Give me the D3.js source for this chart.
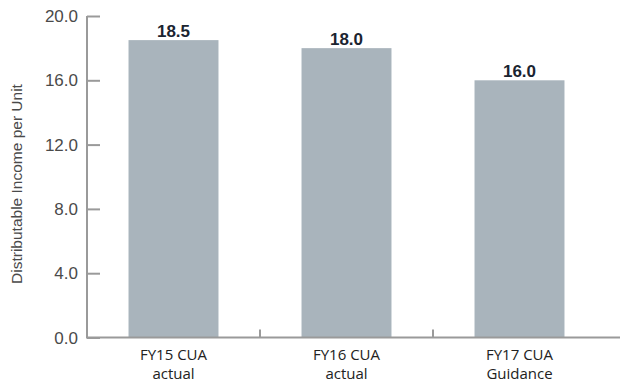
<!DOCTYPE html>
<html>
<head>
<meta charset="utf-8">
<script src="https://cdn.jsdelivr.net/npm/d3@7"></script>
<style>
  html, body { margin: 0; padding: 0; background: #fff; }
  svg { display: block; }
</style>
</head>
<body>
<svg id="chart" width="620" height="383"></svg>
<script>
// Distributable income per unit by year
const categories = ["FY15 CUA|actual", "FY16 CUA|actual", "FY17 CUA|Guidance"];
const values = [18.5, 18.0, 16.0];
const yTicks = [0, 4, 8, 12, 16, 20];
const yTitle = "Distributable Income per Unit";

const svg = d3.select("#chart");
const plotLeft = 87, plotRight = 606, plotTop = 16, plotBottom = 337.5;

const x = d3.scaleBand().domain(categories).range([plotLeft, plotRight]).paddingInner(0.48).paddingOuter(0.24);
const xb = d3.scaleBand().domain(categories).range([plotLeft, plotRight]);
const y = d3.scaleLinear().domain([0, 20]).range([plotBottom, plotTop]);

const axisColor = "#9a9a9a";

// Bars
svg.append("g").selectAll("rect").data(values).join("rect")
  .attr("x", (d, i) => x(categories[i]))
  .attr("width", x.bandwidth())
  .attr("y", d => y(d))
  .attr("height", d => y(0) - y(d))
  .attr("fill", "#a9b4bc");

// Value labels
svg.append("g").selectAll("text").data(values).join("text")
  .attr("x", (d, i) => x(categories[i]) + x.bandwidth() / 2)
  .attr("y", d => y(d) - 3)
  .attr("text-anchor", "middle")
  .attr("font-family", "Liberation Sans, Arial, sans-serif")
  .attr("font-weight", "bold")
  .attr("font-size", 17)
  .attr("fill", "#1b2430")
  .text(d => d.toFixed(1));

// Y axis
const yAxis = svg.append("g").attr("transform", `translate(${plotLeft},0)`)
  .call(d3.axisRight(y).tickValues(yTicks).tickSize(13).tickFormat(""));
yAxis.select(".domain").attr("stroke", axisColor).attr("stroke-width", 2)
  .attr("d", `M0,${plotTop}V${plotBottom + 1}`);
yAxis.selectAll(".tick line").attr("stroke", axisColor).attr("stroke-width", 2);

svg.append("g").selectAll("text").data(yTicks).join("text")
  .attr("x", 78)
  .attr("y", d => y(d))
  .attr("dy", "0.36em")
  .attr("text-anchor", "end")
  .attr("font-family", "Liberation Sans, Arial, sans-serif")
  .attr("font-size", 17)
  .attr("fill", "#4a4a4a")
  .text(d => d.toFixed(1));

// X axis baseline and category separators
const xAxis = svg.append("g").attr("transform", `translate(0,${plotBottom})`)
  .call(d3.axisTop(xb).tickSize(0).tickFormat(""));
xAxis.select(".domain").attr("stroke", axisColor).attr("stroke-width", 2)
  .attr("d", `M${plotLeft},0H620`);
svg.append("g").selectAll("line").data(categories.slice(1)).join("line")
  .attr("x1", d => xb(d)).attr("x2", d => xb(d))
  .attr("y1", plotBottom).attr("y2", plotBottom - 8)
  .attr("stroke", axisColor).attr("stroke-width", 2);

// Category labels (two lines)
const cl = svg.append("g").selectAll("text").data(categories).join("text")
  .attr("x", d => xb(d) + xb.bandwidth() / 2)
  .attr("text-anchor", "middle")
  .attr("font-family", "Open Sans, sans-serif")
  .attr("font-size", 15)
  .attr("fill", "#222");
cl.append("tspan").attr("y", 360).text(d => d.split("|")[0]);
cl.append("tspan").attr("y", 379).attr("x", d => xb(d) + xb.bandwidth() / 2).text(d => d.split("|")[1]);

// Y axis title
svg.append("text")
  .attr("transform", `translate(22,184) rotate(-90)`)
  .attr("text-anchor", "middle")
  .attr("font-family", "Liberation Sans, Arial, sans-serif")
  .attr("font-size", 15.5)
  .attr("fill", "#4a4a4a")
  .text(yTitle);
</script>
</body>
</html>
